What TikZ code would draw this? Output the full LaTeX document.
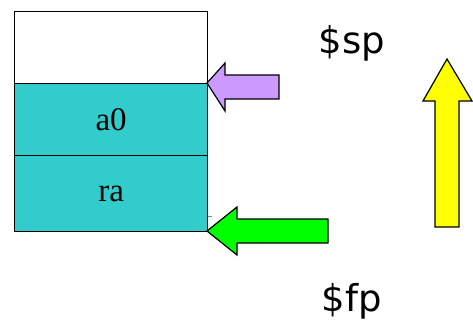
\documentclass[tikz,border=0pt]{standalone}
\usepackage{fontspec}
\setmainfont{Liberation Serif}
\newfontfamily\labfont{DejaVu Sans}
\definecolor{teal1}{HTML}{33CCCC}
\definecolor{purp}{HTML}{CC99FF}
\definecolor{grn}{HTML}{00FF00}
\definecolor{yel}{HTML}{FFFF00}
\begin{document}
\begin{tikzpicture}[x=1pt,y=-1pt,
  cell/.style={draw=black,line width=1.3pt,minimum width=193pt,minimum height=72pt,inner sep=0pt,anchor=north west,font=\fontsize{33}{33}\selectfont},
  blockarrow/.style={draw=black,line width=1.2pt,line join=miter},
  reg/.style={font=\labfont\fontsize{37}{37}\selectfont,inner sep=0pt,anchor=base}]
\useasboundingbox (0,0) rectangle (473,330);
\node[cell] (top) at (14,11) {};
\node[cell,fill=teal1] (a0) at (14,83) {a0};
\node[cell,fill=teal1,minimum height=76pt] (ra) at (14,155) {ra};
\draw[gray,line width=0.8pt] (208,216) -- (212,216);
% purple arrow
\draw[blockarrow,fill=purp] (207,83) -- (225,63) -- (225,75) -- (279,75) -- (279,99) -- (225,99) -- (225,111) -- cycle;
% green arrow
\draw[blockarrow,fill=grn] (207,231) -- (237,207) -- (237,219) -- (328,219) -- (328,243) -- (237,243) -- (237,255) -- cycle;
% yellow arrow
\draw[blockarrow,fill=yel] (447,59) -- (472,101) -- (459,101) -- (459,227) -- (435,227) -- (435,101) -- (423,101) -- cycle;
\node[reg] (sp) at (352,53) {\$sp};
\node[reg] (fp) at (352,311) {\$fp};
\end{tikzpicture}
\end{document}
